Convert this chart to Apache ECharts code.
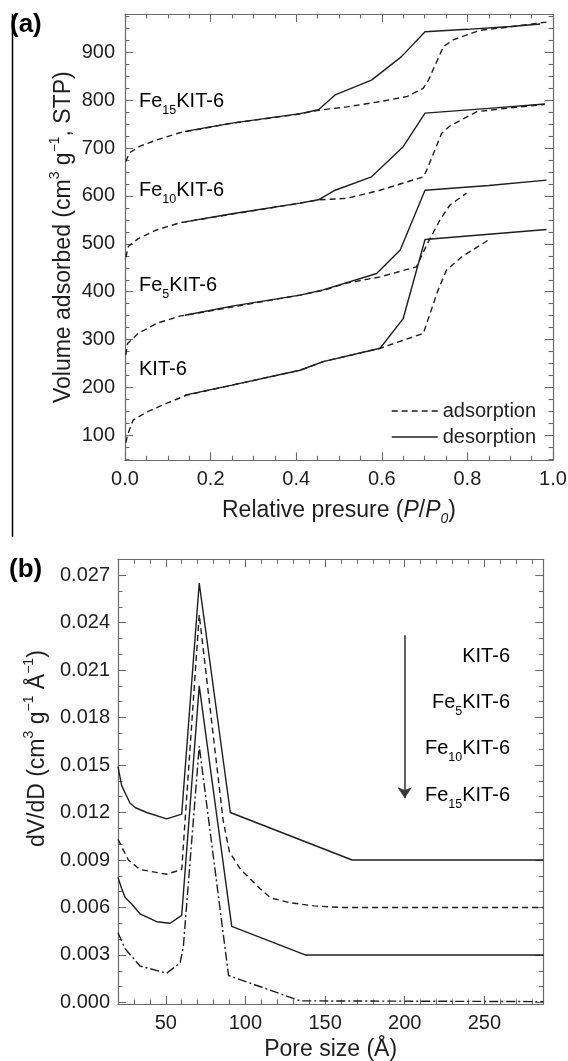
<!DOCTYPE html>
<html><head><meta charset="utf-8">
<script src="https://cdn.jsdelivr.net/npm/echarts@6/dist/echarts.min.js"></script>
<style>html,body{margin:0;padding:0;background:#fff}#c{width:568px;height:1061px}</style>
</head><body><div id="c"></div>
<script>
// ---------- Panel (a): N2 isotherms, [P/P0, volume] ----------
const kit6Ads = [[0.002,85],[0.006,101],[0.019,132],[0.051,149],[0.097,167],[0.144,184],[0.25,205],[0.409,236],[0.463,254],[0.596,282],[0.697,313],[0.73,400],[0.751,445],[0.787,473],[0.849,508]];
const kit6Des = [[0.14,184],[0.25,205],[0.409,236],[0.463,254],[0.596,282],[0.65,344],[0.701,509],[0.85,520],[0.985,530]];
const fe5Ads = [[0.002,268],[0.006,292],[0.031,313],[0.074,334],[0.128,349],[0.25,368],[0.409,393],[0.463,403],[0.518,418],[0.596,431],[0.681,452],[0.705,498],[0.736,550],[0.759,581],[0.798,606]];
const fe5Des = [[0.14,351],[0.25,370],[0.409,393],[0.463,404],[0.588,438],[0.643,487],[0.701,612],[0.85,622],[0.985,633]];
const fe10Ads = [[0.002,472],[0.008,495],[0.031,511],[0.074,529],[0.128,544],[0.25,562],[0.409,585],[0.452,592],[0.518,595],[0.596,612],[0.697,640],[0.705,654],[0.74,731],[0.759,746],[0.822,776],[0.9,784],[0.98,791]];
const fe10Des = [[0.14,546],[0.25,563],[0.409,585],[0.452,592],[0.491,612],[0.576,640],[0.65,703],[0.701,773],[0.85,783],[0.981,792]];
const fe15Ads = [[0.002,672],[0.01,690],[0.035,704],[0.074,717],[0.128,732],[0.25,752],[0.4,770],[0.452,779],[0.518,786],[0.596,797],[0.66,808],[0.697,825],[0.709,842],[0.744,912],[0.767,926],[0.81,940],[0.83,946],[0.9,953],[0.993,964]];
const fe15Des = [[0.14,735],[0.25,752],[0.409,772],[0.452,780],[0.491,811],[0.576,842],[0.646,891],[0.701,943],[0.8,948],[0.9,954],[0.97,959]];

// ---------- Panel (b): pore size distribution, [pore size, dV/dD] ----------
const kit6Psd = [[20,0.0149],[22.3,0.0137],[27.5,0.0126],[31,0.0123],[38,0.012],[50.6,0.0116],[60,0.0119],[71,0.0265],[90.5,0.012],[167,0.009],[287,0.009]];
const fe5Psd = [[20,0.0103],[26.5,0.009],[33.8,0.0084],[50.6,0.0081],[60,0.0084],[71,0.0245],[86,0.0115],[90,0.0095],[97,0.0084],[109,0.0072],[116,0.0066],[128,0.0063],[143,0.0061],[160,0.006],[287,0.006]];
const fe10Psd = [[20,0.0079],[22.3,0.0072],[24.4,0.00665],[25.5,0.0067],[28.7,0.0062],[33.8,0.0056],[44.3,0.0051],[52.7,0.005],[60,0.0055],[71,0.02],[91.4,0.0048],[137.5,0.003],[287,0.003]];
const fe15Psd = [[20,0.0044],[24.4,0.0034],[33.8,0.0023],[50.6,0.00185],[59,0.0025],[61,0.0035],[71,0.0162],[89.4,0.0017],[134.4,0.0001],[287,0.00005]];

// ---------- tick labels ----------
const aXTicks = [0, 0.2, 0.4, 0.6, 0.8, 1.0];
const aYTicks = [100, 200, 300, 400, 500, 600, 700, 800, 900];
const bXTicks = [50, 100, 150, 200, 250];
const bYTicks = [0, 0.003, 0.006, 0.009, 0.012, 0.015, 0.018, 0.021, 0.024, 0.027];

// sample names: [prefix, subscript, suffix]
const sampleNames = [['', '', 'KIT-6'], ['Fe', '5', 'KIT-6'], ['Fe', '10', 'KIT-6'], ['Fe', '15', 'KIT-6']];
const legendNames = ['adsorption', 'desorption'];

// minor tick positions
const aXMinor = []; for (let i = 1; i < 20; i++) if (i % 4) aXMinor.push(+(i * 0.05).toFixed(2));
const aYMinor = []; for (let v = 50; v < 980; v += 25) if (v % 100) aYMinor.push(v);
const bXMinor = []; for (let v = 30; v < 287; v += 10) if (v % 50) bXMinor.push(v);
const bYMinor = []; for (let i = 1; i < 28; i++) if (i % 3) bYMinor.push(+(i * 0.001).toFixed(3));

const FONT = '"Liberation Sans", Arial, sans-serif';
const INK = '#1e1e1e';
const FRAME = '#6a6a6a';

function nm(n) { return (n[0] ? '{m|' + n[0] + '}' : '') + (n[1] ? '{s|' + n[1] + '}' : '') + '{m|' + n[2] + '}'; }
const richLbl = {
  m: { fontSize: 20, lineHeight: 32, fontFamily: FONT, color: INK },
  s: { fontSize: 12.5, lineHeight: 12, verticalAlign: 'bottom', fontFamily: FONT, color: INK }
};
const richTitle = {
  m: { fontSize: 23, lineHeight: 32, fontFamily: FONT, color: INK },
  i: { fontSize: 23, lineHeight: 32, fontFamily: FONT, fontStyle: 'italic', color: INK },
  is: { fontSize: 14, lineHeight: 12, verticalAlign: 'bottom', fontFamily: FONT, fontStyle: 'italic', color: INK },
  p: { fontSize: 14, lineHeight: 14, verticalAlign: 'top', fontFamily: FONT, color: INK }
};

function axisGroup(dim, grid, min, max, major, minor, fmt, labelMargin, name, nameGap, namePadding) {
  const sides = dim === 'x' ? ['bottom', 'top'] : ['left', 'right'];
  const base = { type: 'value', gridIndex: grid, min: min, max: max, splitLine: { show: false }, silent: true };
  const line = { show: true, onZero: false, lineStyle: { color: FRAME, width: 1.2 } };
  const mk = (side, vals, len, main, labels) => Object.assign({}, base, {
    position: side,
    axisLine: main ? line : { show: false, onZero: false },
    axisTick: { show: true, inside: true, length: len, customValues: vals, lineStyle: { color: FRAME, width: 1.1 } },
    axisLabel: labels ? { show: true, customValues: major, formatter: fmt, margin: labelMargin, fontSize: 20, fontFamily: FONT, color: INK } : { show: false },
    name: labels ? name : '',
    nameLocation: 'middle', nameGap: nameGap, nameRotate: dim === 'y' ? 90 : 0,
    nameMoveOverlap: false,
    nameTextStyle: { rich: richTitle, padding: namePadding || 0 }
  });
  return [
    mk(sides[0], major, 8, true, true),
    mk(sides[0], minor, 4.5, false, false),
    mk(sides[1], major, 8, true, false),
    mk(sides[1], minor, 4.5, false, false)
  ];
}

const xAxes = [].concat(
  axisGroup('x', 0, 0, 1, aXTicks, aXMinor, v => v.toFixed(1), 9, '{m|Relative presure (}{i|P}{m|/}{i|P}{is|0}{m|)}', 34),
  axisGroup('x', 1, 20, 287, bXTicks, bXMinor, v => String(v), 9, '{m|Pore size (Å)}', 30)
);
const yAxes = [].concat(
  axisGroup('y', 0, 48, 980, aYTicks, aYMinor, v => String(v), 10, '{m|Volume adsorbed (cm}{p|3}{m| g}{p|−1}{m|, STP)}', 45),
  axisGroup('y', 1, -0.0001, 0.028, bYTicks, bYMinor, v => v.toFixed(3), 8, '{m|dV/dD (cm}{p|3}{m| g}{p|−1}{m| Å}{p|−1}{m|)}', 64, [0, 0, 0, 66])
);

const DASH = [6, 4];
const DASHDOT = [9, 3, 2, 3];
function ser(name, data, grid, type) {
  return {
    type: 'line', name: name, data: data, xAxisIndex: grid * 4, yAxisIndex: grid * 4,
    symbol: 'none', showSymbol: false, smooth: false, silent: true, z: 3,
    itemStyle: { color: INK },
    lineStyle: { color: INK, width: 1.4, type: type }
  };
}

const series = [
  ser('adsorption', kit6Ads, 0, DASH), ser('desorption', kit6Des, 0, 'solid'),
  ser('adsorption', fe5Ads, 0, DASH), ser('desorption', fe5Des, 0, 'solid'),
  ser('adsorption', fe10Ads, 0, DASH), ser('desorption', fe10Des, 0, 'solid'),
  ser('adsorption', fe15Ads, 0, DASH), ser('desorption', fe15Des, 0, 'solid'),
  ser('KIT-6 PSD', kit6Psd, 1, 'solid'),
  ser('Fe5KIT-6 PSD', fe5Psd, 1, DASH),
  ser('Fe10KIT-6 PSD', fe10Psd, 1, 'solid'),
  ser('Fe15KIT-6 PSD', fe15Psd, 1, DASHDOT)
];
series[series.length - 1].markLine = {
  silent: true, symbol: ['none', 'arrow'], symbolSize: 11, animation: false,
  label: { show: false },
  lineStyle: { type: 'solid', color: '#3a3a3a', width: 1.6 },
  data: [[{ coord: [200, 0.0232] }, { coord: [200, 0.0129] }]]
};

// text annotations (sample labels)
const aLabelY = [375, 291, 196, 107];
const bLabelY = [656, 702, 748, 795];
const graphics = [];
sampleNames.forEach((n, i) => {
  graphics.push({ type: 'text', left: 139, top: aLabelY[i] - 16, silent: true,
    style: { text: nm(n), rich: richLbl } });
  graphics.push({ type: 'text', x: 510, y: bLabelY[i], silent: true,
    style: { text: nm(n), rich: richLbl, align: 'right', verticalAlign: 'middle' } });
});
graphics.push({ type: 'text', left: 10, top: 12, silent: true,
  style: { text: '(a)', font: 'bold 26px ' + FONT, fill: '#000' } });
graphics.push({ type: 'text', left: 9, top: 557, silent: true,
  style: { text: '(b)', font: 'bold 26px ' + FONT, fill: '#000' } });
graphics.push({ type: 'line', silent: true, shape: { x1: 12.5, y1: 14, x2: 12.5, y2: 537 },
  style: { stroke: '#000', lineWidth: 1.5 } });

const chart = echarts.init(document.getElementById('c'), null, { renderer: 'canvas' });
chart.setOption({
  animation: false,
  backgroundColor: '#fff',
  textStyle: { fontFamily: FONT },
  grid: [
    { left: 125, top: 14, right: 15, bottom: 600.7, containLabel: false, outerBoundsMode: 'none' },
    { left: 118, top: 559.3, right: 24.7, bottom: 57, containLabel: false, outerBoundsMode: 'none' }
  ],
  legend: {
    data: legendNames, orient: 'vertical', left: 386, top: 396, itemWidth: 46, itemHeight: 12, itemGap: 6,
    selectedMode: false, textStyle: { fontSize: 20, color: INK, fontFamily: FONT },
    itemStyle: { color: 'rgba(0,0,0,0)', borderWidth: 0, opacity: 0 },
    lineStyle: { color: INK, width: 1.4 }
  },
  xAxis: xAxes,
  yAxis: yAxes,
  series: series,
  graphic: graphics
});
</script></body></html>
